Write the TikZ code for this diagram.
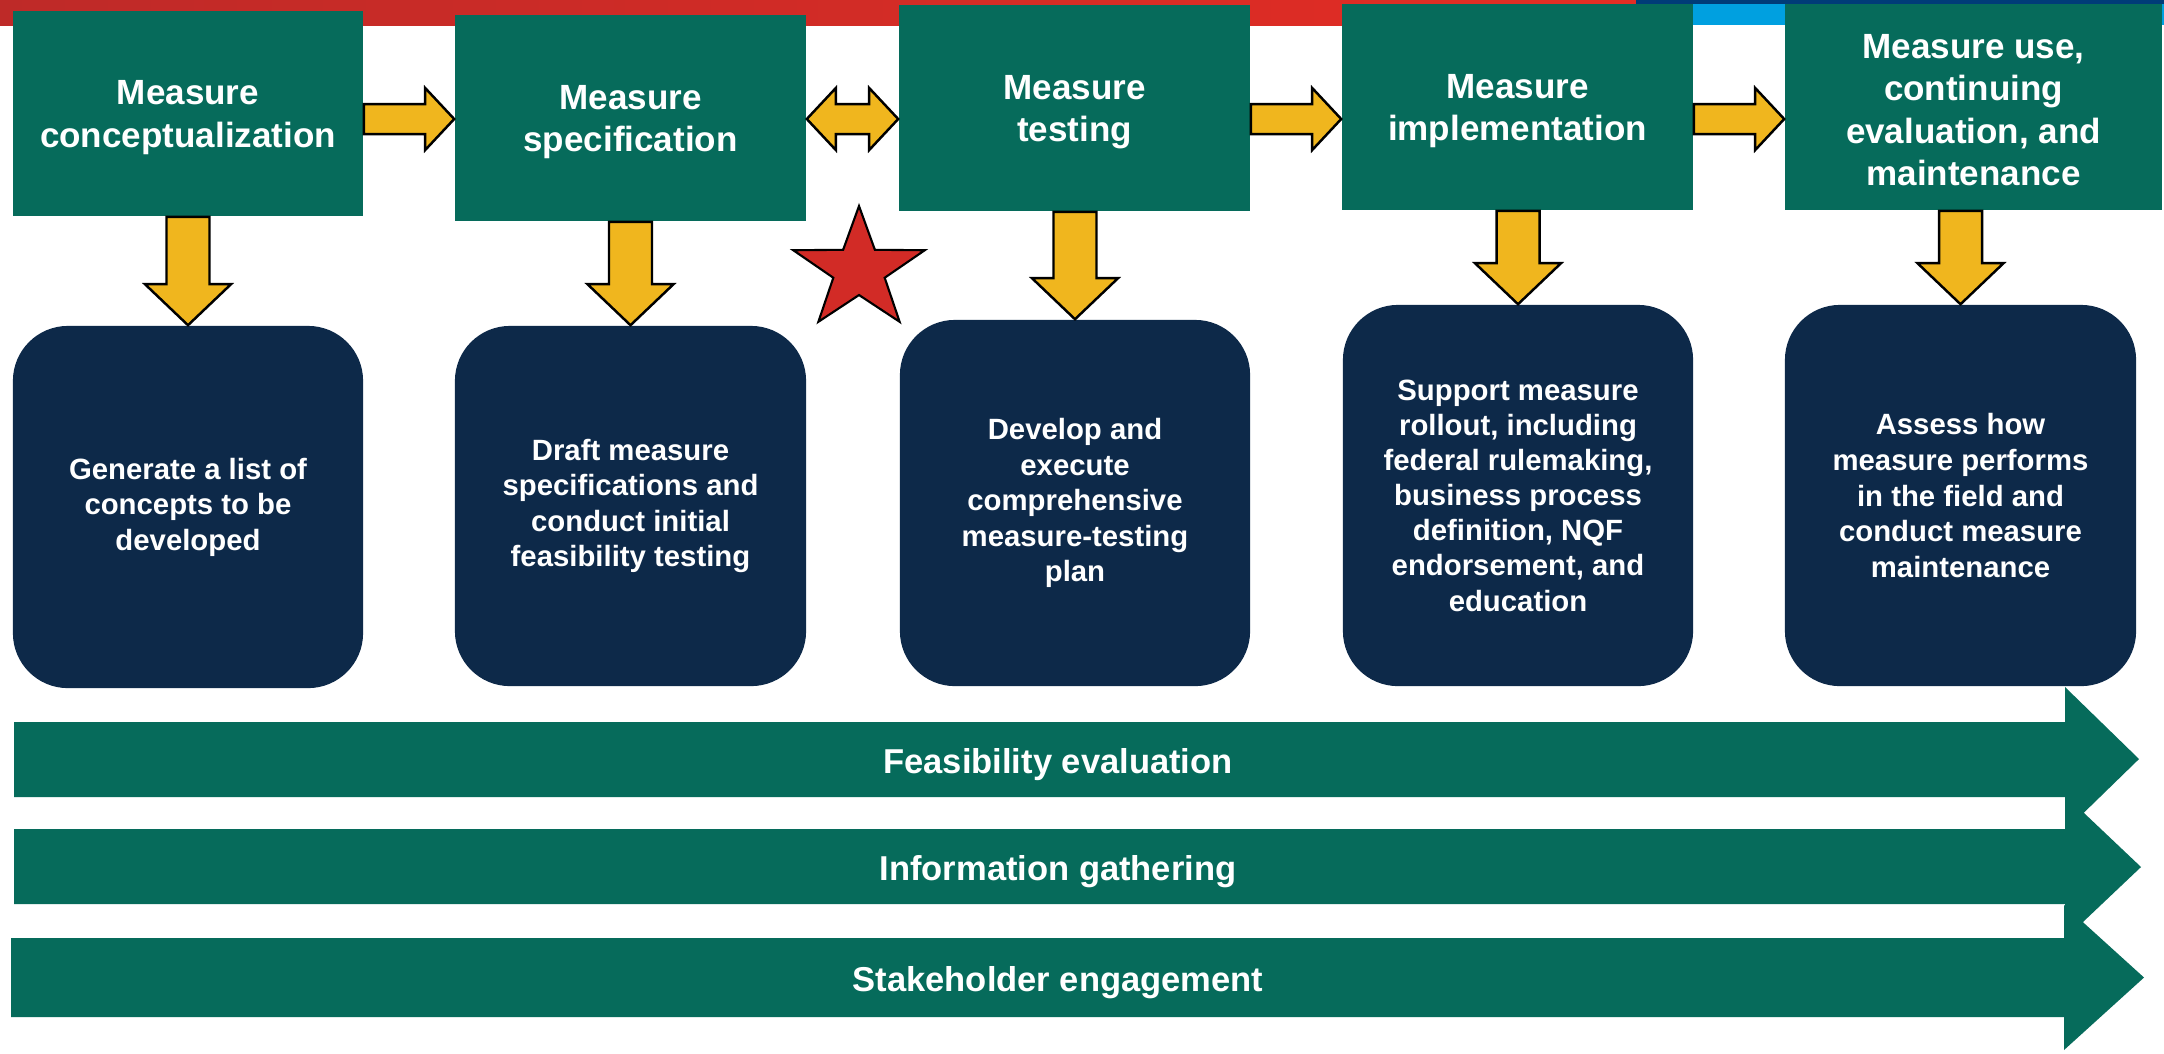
\documentclass[tikz,border=0pt]{standalone}
\usepackage{fontspec}
\setmainfont{Liberation Sans}
\usetikzlibrary{calc}
\definecolor{mgreen}{RGB}{6,107,91}
\definecolor{mnavy}{RGB}{13,41,73}
\definecolor{myellow}{RGB}{240,182,30}
\definecolor{mstar}{RGB}{210,43,38}
\definecolor{redL}{RGB}{190,42,40}
\definecolor{redR}{RGB}{228,45,36}
\definecolor{mblue}{RGB}{0,160,224}
\definecolor{dblue}{RGB}{0,60,120}
\tikzset{
 gbox/.style={rectangle, fill=mgreen, inner sep=0pt},
 gtext/.style={inner sep=0pt, text=white, font=\bfseries\fontsize{9.96}{12.1}\selectfont, align=center},
 nbox/.style={rectangle, rounded corners=0.55cm, fill=mnavy, inner sep=0pt, text=white, font=\bfseries\fontsize{8.34}{10.1}\selectfont, align=center},
 yarr/.style={fill=myellow, draw=black, line width=0.7pt, line join=miter},
 barr/.style={fill=mgreen},
 starsty/.style={fill=mstar, draw=black, line width=0.6pt},
 blabel/.style={text=white, font=\bfseries\fontsize{9.82}{11}\selectfont, inner sep=0pt},
}
% horizontal block arrow from node #1 to node #2 at height of coordinate #3
\newcommand\hArrow[3]{%
 \draw[yarr] ($(#1.east|-#3)+(0,-15)$) -- ($(#2.west|-#3)+(-29,-15)$) -- ($(#2.west|-#3)+(-29,-31)$) -- (#2.west|-#3) -- ($(#2.west|-#3)+(-29,31)$) -- ($(#2.west|-#3)+(-29,15)$) -- ($(#1.east|-#3)+(0,15)$) -- cycle;}
\newcommand\dArrow[3]{%
 \draw[yarr] (#1.east|-#3) -- ($(#1.east|-#3)+(29,-31)$) -- ($(#1.east|-#3)+(29,-15)$) -- ($(#2.west|-#3)+(-29,-15)$) -- ($(#2.west|-#3)+(-29,-31)$) -- (#2.west|-#3) -- ($(#2.west|-#3)+(-29,31)$) -- ($(#2.west|-#3)+(-29,15)$) -- ($(#1.east|-#3)+(29,15)$) -- ($(#1.east|-#3)+(29,31)$) -- cycle;}
% vertical block arrow from green node #1 down to navy node #2
\newcommand\vArrow[2]{%
 \draw[yarr] ($(#2.north|-#1.south)+(-21.5,0)$) -- ($(#2.north)+(-21.5,-41)$) -- ($(#2.north)+(-43,-41)$) -- (#2.north) -- ($(#2.north)+(43,-41)$) -- ($(#2.north)+(21.5,-41)$) -- ($(#2.north|-#1.south)+(21.5,0)$) -- cycle;}
\begin{document}
\begin{tikzpicture}[x=0.01cm, y=-0.01cm]
\useasboundingbox (0,0) rectangle (2164,1053);
\fill[white] (0,0) rectangle (2164,1053);
% top bar
\shade[left color=redL, right color=redR] (0,0) rectangle (1636,25);
\fill[mblue] (1636,0) rectangle (2164,25);
\fill[dblue] (1636,0) rectangle (2164,4);
% green boxes
\node[gbox, minimum width=3.50cm, minimum height=2.05cm] (G1) at (188,113.5) {};
\node[gbox, minimum width=3.51cm, minimum height=2.06cm] (G2) at (630.5,118) {};
\node[gbox, minimum width=3.51cm, minimum height=2.06cm] (G3) at (1074.5,108) {};
\node[gbox, minimum width=3.51cm, minimum height=2.06cm] (G4) at (1517.5,107) {};
\node[gbox, minimum width=3.77cm, minimum height=2.06cm] (G5) at (1973.5,107) {};
\node[gtext] (T1) at ($(G1.center)+(0,4)$) {Measure\\conceptualization};
\node[gtext] (T2) at ($(G2.center)+(0,4)$) {Measure\\specification};
\node[gtext] (T3) at ($(G3.center)+(0,4)$) {Measure\\testing};
\node[gtext] (T4) at ($(G4.center)+(0,4)$) {Measure\\implementation};
\node[gtext] (T5) at ($(G5.center)+(0,3)$) {Measure use,\\continuing\\evaluation, and\\maintenance};
% navy boxes
\node[nbox, minimum width=3.50cm, minimum height=3.62cm] (N1) at (188,507) {Generate a list of\\concepts to be\\developed};
\node[nbox, minimum width=3.51cm, minimum height=3.60cm] (N2) at (630.5,506) {Draft measure\\specifications and\\conduct initial\\feasibility testing};
\node[nbox, minimum width=3.50cm, minimum height=3.66cm] (N3) at (1075,503) {Develop and\\execute\\comprehensive\\measure-testing\\plan};
\node[nbox, minimum width=3.50cm, minimum height=3.81cm, font=\bfseries\fontsize{8.34}{10.0}\selectfont] (N4) at (1518,495.5) {Support measure\\rollout, including\\federal rulemaking,\\business process\\definition, NQF\\endorsement, and\\education};
\node[nbox, minimum width=3.51cm, minimum height=3.81cm] (N5) at (1960.5,495.5) {Assess how\\measure performs\\in the field and\\conduct measure\\maintenance};
% connectors
\coordinate (ya) at (0,119);
\hArrow{G1}{G2}{ya}
\dArrow{G2}{G3}{ya}
\hArrow{G3}{G4}{ya}
\hArrow{G4}{G5}{ya}
\vArrow{G1}{N1}
\vArrow{G2}{N2}
\vArrow{G3}{N3}
\vArrow{G4}{N4}
\vArrow{G5}{N5}
% star
\begin{scope}[shift={(859,270)}, xscale=1.08]
\draw[starsty] (-90:64) -- (-54:25) -- (-18:64) -- (18:25) -- (54:64) -- (90:25) -- (126:64) -- (162:25) -- (198:64) -- (234:25) -- cycle;
\end{scope}
% bottom arrows
\fill[barr] (14,722) -- (2065,722) -- (2065,687) -- (2139,759) -- (2065,831) -- (2065,797) -- (14,797) -- cycle;
\fill[barr] (14,829) -- (2065,829) -- (2065,795) -- (2141,867) -- (2065,939) -- (2065,904) -- (14,904) -- cycle;
\fill[barr] (11,938) -- (2064,938) -- (2064,905) -- (2144,977.5) -- (2064,1050) -- (2064,1017) -- (11,1017) -- cycle;
\node[blabel] (L1) at (1058,765) {Feasibility evaluation};
\node[blabel] (L2) at (1058,872) {Information gathering};
\node[blabel] (L3) at (1058,983) {Stakeholder engagement};
\end{tikzpicture}
\end{document}
